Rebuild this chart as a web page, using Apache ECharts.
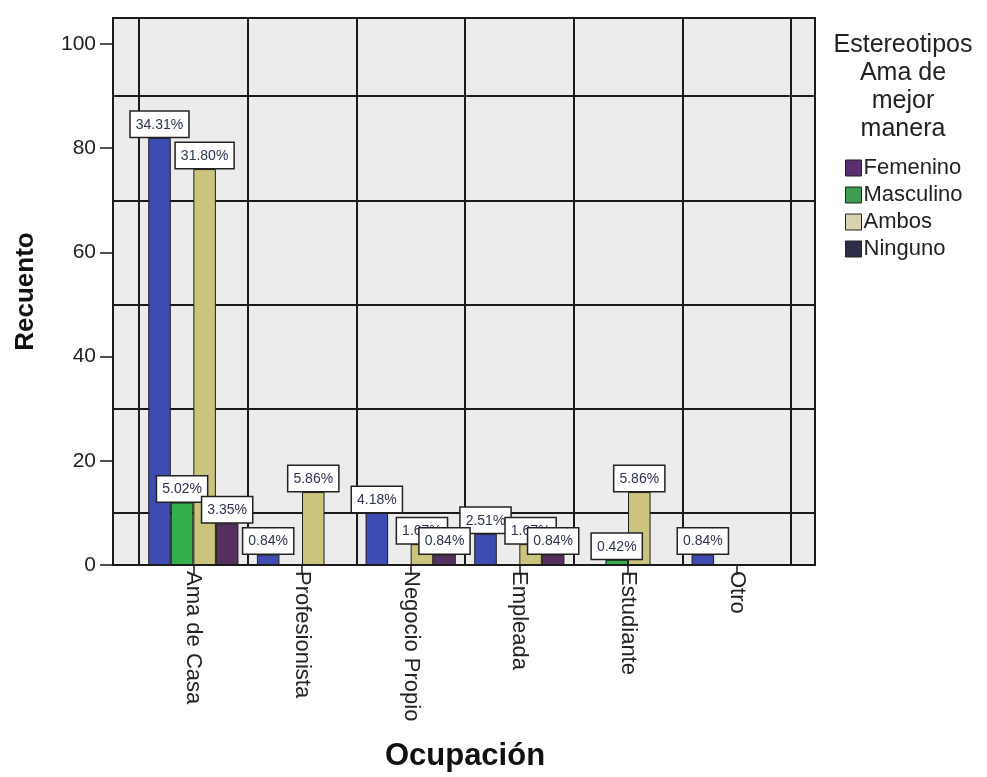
<!DOCTYPE html>
<html>
<head>
<meta charset="utf-8">
<script src="https://cdn.jsdelivr.net/npm/echarts@6/dist/echarts.min.js"></script>
<style>
html,body{margin:0;padding:0;background:#fff;}
#chart{width:987px;height:777px;}
</style>
</head>
<body>
<div id="chart"></div>
<script>
var categories = ['Ama de Casa', 'Profesionista', 'Negocio Propio', 'Empleada', 'Estudiante', 'Otro'];
var seriesNames = ['Femenino', 'Masculino', 'Ambos', 'Ninguno'];
var femenino  = [82, 2, 10, 6, 0, 2];
var masculino = [12, 0, 0, 0, 1, 0];
var ambos     = [76, 14, 4, 4, 14, 0];
var ninguno   = [8, 0, 2, 2, 0, 0];
var yTicks = [0, 20, 40, 60, 80, 100];

var allValues = [femenino, masculino, ambos, ninguno];
var total = allValues.reduce(function (s, arr) { return s + arr.reduce(function (a, b) { return a + b; }, 0); }, 0);

var FONT = '"Liberation Sans", Arial, sans-serif';
var barColors = ['#3e4cb2', '#34ad4b', '#cbc47c', '#55305e'];
var legendColors = ['#5a2f6e', '#3f9a52', '#d9d2ae', '#2e2e48'];

var chart = echarts.init(document.getElementById('chart'));

function makeSeries(name, arr, i) {
  return {
    name: name,
    type: 'bar',
    xAxisIndex: 1,
    yAxisIndex: 2,
    barGap: '0%',
    barCategoryGap: '17%',
    data: arr.map(function (v) { return v === 0 ? '-' : v; }),
    itemStyle: { color: barColors[i], borderColor: '#1e1e1e', borderWidth: 1 },
    label: {
      show: true,
      position: 'top',
      distance: 1,
      formatter: function (p) { return (p.value / total * 100).toFixed(2) + '%'; },
      fontFamily: FONT,
      fontSize: 14,
      color: '#2a3552',
      backgroundColor: '#ffffff',
      borderColor: '#222',
      borderWidth: 1.5,
      padding: [6, 5, 5, 5]
    }
  };
}

var option = {
  backgroundColor: '#ffffff',
  animation: false,
  textStyle: { fontFamily: FONT },
  graphic: [{
    type: 'text',
    x: 903,
    y: 31,
    style: {
      text: 'Estereotipos\nAma de\nmejor\nmanera',
      textAlign: 'center',
      fontFamily: FONT,
      fontSize: 25,
      lineHeight: 28,
      fill: '#222'
    }
  }],
  legend: {
    orient: 'vertical',
    left: 845,
    top: 157,
    padding: 0,
    itemWidth: 16,
    itemHeight: 16,
    itemGap: 5,
    icon: 'rect',
    textStyle: { fontFamily: FONT, fontSize: 22, color: '#222', padding: [0, 0, 0, -3] },
    data: seriesNames.map(function (n, i) {
      return { name: n, itemStyle: { color: legendColors[i], borderColor: '#222', borderWidth: 1 } };
    })
  },
  grid: [
    { left: 113, top: 18, width: 702, height: 547, show: true, backgroundColor: '#ececec', borderColor: '#1a1a1a', borderWidth: 2, outerBoundsMode: 'none', containLabel: false },
    { left: 139, top: 18, width: 652, height: 547, outerBoundsMode: 'none', containLabel: false }
  ],
  xAxis: [
    { gridIndex: 0, type: 'value', min: 0, max: 1, show: false },
    {
      gridIndex: 1,
      type: 'category',
      data: categories,
      axisLine: { show: false },
      axisTick: { show: true, alignWithLabel: true, length: 10, lineStyle: { color: '#1a1a1a', width: 1.5 } },
      axisLabel: { rotate: -90, margin: 6, fontFamily: FONT, fontSize: 22, color: '#222' },
      splitLine: { show: true, lineStyle: { color: '#1a1a1a', width: 2 } },
      name: 'Ocupación',
      nameLocation: 'middle',
      nameGap: 176,
      nameTextStyle: { fontFamily: FONT, fontSize: 31, fontWeight: 'bold', color: '#111' }
    }
  ],
  yAxis: [
    {
      gridIndex: 0,
      type: 'value',
      min: 0,
      max: 105,
      interval: 20,
      axisLine: { show: true, lineStyle: { color: '#1a1a1a', width: 2 } },
      axisTick: { show: true, length: 13, lineStyle: { color: '#1a1a1a', width: 1.5 } },
      axisLabel: {
        margin: 17, fontFamily: FONT, fontSize: 21, color: '#222', showMaxLabel: false,
        formatter: function (v) { return yTicks.indexOf(v) >= 0 ? String(v) : ''; }
      },
      splitLine: { show: false },
      name: 'Recuento',
      nameLocation: 'middle',
      nameRotate: 90,
      nameGap: 74,
      nameTextStyle: { fontFamily: FONT, fontSize: 26, fontWeight: 'bold', color: '#111' }
    },
    {
      gridIndex: 0,
      type: 'value',
      position: 'right',
      min: 0,
      max: 105,
      interval: 10,
      axisLine: { show: false },
      axisTick: { show: false },
      axisLabel: { show: false },
      splitLine: { show: true, lineStyle: { color: ['rgba(0,0,0,0)', '#1a1a1a'], width: 2 } }
    },
    {
      gridIndex: 1,
      type: 'value',
      min: 0,
      max: 105,
      show: false,
      splitLine: { show: false }
    }
  ],
  series: [
    makeSeries(seriesNames[0], femenino, 0),
    makeSeries(seriesNames[1], masculino, 1),
    makeSeries(seriesNames[2], ambos, 2),
    makeSeries(seriesNames[3], ninguno, 3)
  ]
};

chart.setOption(option);
</script>
</body>
</html>
